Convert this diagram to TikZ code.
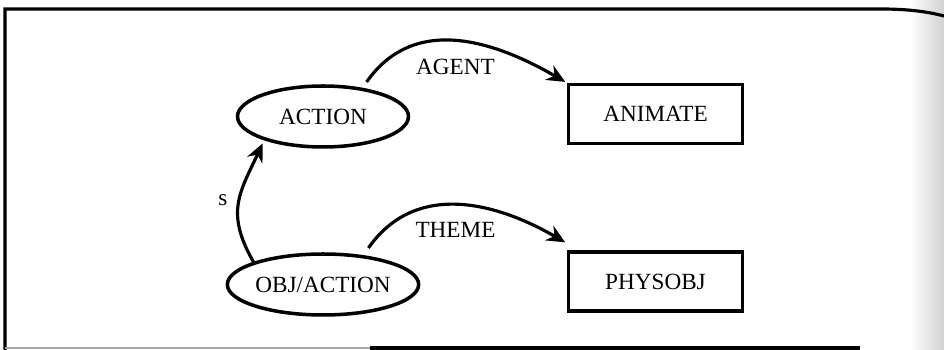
\documentclass[tikz,border=0pt]{standalone}
\usepackage{fontspec}
\setmainfont{Liberation Serif}
\usetikzlibrary{shapes.geometric,arrows.meta}
\begin{document}
\begin{tikzpicture}[x=0.02cm, y=-0.02cm,
    font=\fontsize{13.2}{15}\selectfont,
    concept/.style={ellipse, draw, line width=2pt, inner sep=0pt,
        minimum width=3.42cm, minimum height=1.22cm},
    typebox/.style={rectangle, draw, line width=2pt, inner sep=0pt,
        minimum width=3.48cm, minimum height=1.18cm},
    rel/.style={line width=1.8pt, looseness=1.1,
        -{Stealth[length=10.5pt, width=9.5pt, inset=3.5pt]}},
    rellabel/.style={inner sep=0pt}]
    \useasboundingbox (0, 0) rectangle (944, 350);
    % scanned page edge on the right
    \shade[left color=white, right color=black!18] (910, 0) rectangle (944, 350);
    % frame round the network
    \draw[line width=1.8pt] (5, 350) -- (5, 9) -- (880, 9)
        .. controls (905, 9) and (925, 11) .. (944, 16);
    \draw[line width=1.2pt, black!35] (5, 348) -- (370, 348);
    \draw[line width=1.8pt] (370, 348) -- (860, 348);
    % concepts and types
    \node[concept] (action) at (323, 116.5) {ACTION};
    \node[concept] (objaction) at (323, 284.5) {OBJ/ACTION};
    \node[typebox] (animate) at (655.5, 114) {ANIMATE};
    \node[typebox] (physobj) at (655.5, 281.5) {PHYSOBJ};
    % relations
    \draw[rel, shorten <=4pt, shorten >=1pt] (action.36)
        to[out=55, in=150] (animate.north west);
    \node[rellabel] (agent) at (455.5, 66.5) {AGENT};
    \draw[rel, shorten <=5pt, shorten >=1pt] (objaction.36)
        to[out=55, in=150] ([yshift=4pt]physobj.north west);
    \node[rellabel] (theme) at (455.5, 229.5) {THEME};
    \draw[rel, looseness=1.2, shorten >=2pt] (objaction.162)
        to[out=120, in=245] (action.202);
    \node[rellabel] (s) at (223, 200) {s};
\end{tikzpicture}
\end{document}
